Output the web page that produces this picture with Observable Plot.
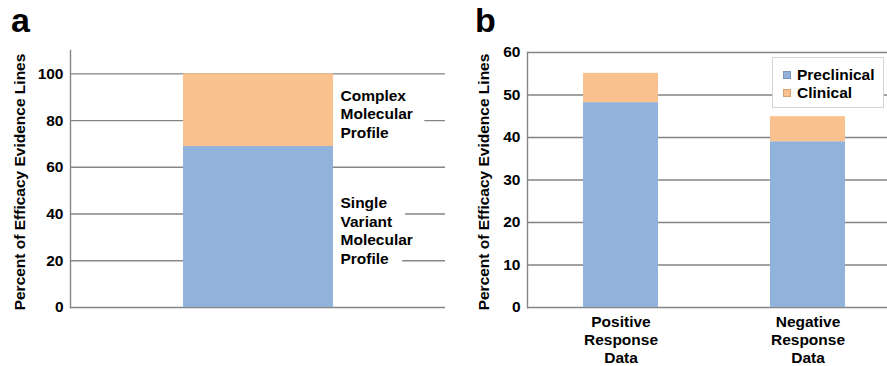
<!DOCTYPE html>
<html>
<head>
<meta charset="utf-8">
<script src="https://cdn.jsdelivr.net/npm/d3@7"></script>
<script src="https://cdn.jsdelivr.net/npm/@observablehq/plot@0.6"></script>
<style>
  html, body { margin: 0; padding: 0; background: #fff; overflow: hidden; }
  #wrap { position: relative; width: 887px; height: 366px; overflow: hidden; font-family: "Liberation Sans", Arial, sans-serif; }
  .panel-letter { position: absolute; font-weight: bold; font-size: 34px; line-height: normal; color: #000; }
  #panelA, #panelB { position: absolute; top: 0; height: 366px; }
  #panelA { left: 0; width: 450px; }
  #panelB { left: 440px; width: 461px; }
  #panelA svg, #panelB svg { max-width: none !important; display: block; }
  #legend { position: absolute; left: 772px; top: 57px; width: 110px; height: 49px; background: #fff; border: 1px solid #d4d4d4; font-weight: bold; font-size: 15.5px; }
  .legend-row { position: absolute; left: 10px; display: flex; align-items: center; height: 18px; }
  .legend-swatch { width: 8px; height: 8px; margin-right: 6px; box-sizing: border-box; border: 1px solid rgba(0,0,0,0.15); }
</style>
</head>
<body>
<div id="wrap">
  <div id="panelA"></div>
  <div id="panelB"></div>
  <div id="legend"></div>
  <div class="panel-letter" style="left:11px; top:1px;">a</div>
  <div class="panel-letter" style="left:475px; top:1px;">b</div>
</div>
<script>
// ---------- data ----------
const yTitle = "Percent of Efficacy Evidence Lines";

// panel a
const profileCategory = ["All efficacy evidence"];
const profileTypes = ["Single\nVariant\nMolecular\nProfile", "Complex\nMolecular\nProfile"];
const profileValues = [68.9, 31.1];
const yTicksA = [0, 20, 40, 60, 80, 100];

// panel b
const responseCategories = ["Positive\nResponse\nData", "Negative\nResponse\nData"];
const seriesNames = ["Preclinical", "Clinical"];
const preclinicalValues = [48.2, 39.0];
const clinicalValues = [6.9, 5.9];
const yTicksB = [0, 10, 20, 30, 40, 50, 60];

const seriesColors = ["#91B2DA", "#F9C18E"];

// ---------- shared style ----------
const font = "'Liberation Sans', Arial, sans-serif";
const gridColor = "#858585";
const fs = 15.5;

// ---------- panel a ----------
const rowsA = profileTypes.map((t, i) => ({category: profileCategory[0], type: t, value: profileValues[i]}));
const cumA = d3.cumsum(profileValues);
const labelRowsA = profileTypes.map((t, i) => ({category: profileCategory[0], type: t, mid: cumA[i] - profileValues[i] / 2}));
const labelOpts = {x: "category", y: "mid", text: "type", textAnchor: "start", dx: 82, dy: 3, lineHeight: 1.2,
  fontSize: fs, fontWeight: "bold"};

const chartA = Plot.plot({
  width: 450,
  height: 366,
  marginLeft: 70,
  marginRight: 5,
  marginTop: 50,
  marginBottom: 59,
  style: {fontFamily: font, background: "transparent"},
  x: {domain: profileCategory, paddingInner: 0.6, paddingOuter: 0.3, axis: null},
  y: {domain: [0, 110]},
  color: {domain: profileTypes, range: seriesColors},
  marks: [
    Plot.gridY(yTicksA, {stroke: gridColor, strokeOpacity: 1, strokeWidth: 1.4}),
    Plot.frame({anchor: "left", stroke: gridColor, strokeWidth: 1.4}),
    Plot.axisY(yTicksA, {tickSize: 0, tickPadding: 7, fontSize: fs, fontWeight: "bold", fill: "#000", label: null}),
    Plot.text([yTitle], {frameAnchor: "left", rotate: -90, dx: -50, dy: 3, fontSize: fs, fontWeight: "bold", fill: "#000", textAnchor: "middle"}),
    // white backing behind the segment labels (breaks the gridlines like the original text boxes)
    Plot.text(labelRowsA, {...labelOpts, fill: "white", stroke: "white", strokeWidth: 28}),
    Plot.text(labelRowsA, {...labelOpts, fill: "#000"}),
    Plot.barY(rowsA, {x: "category", y: "value", fill: "type"})
  ]
});
document.getElementById("panelA").appendChild(chartA);

// ---------- panel b ----------
const rowsB = [];
responseCategories.forEach((c, i) => {
  rowsB.push({category: c, series: seriesNames[0], value: preclinicalValues[i]});
  rowsB.push({category: c, series: seriesNames[1], value: clinicalValues[i]});
});

const chartB = Plot.plot({
  width: 461,
  height: 366,
  marginLeft: 87,
  marginRight: 0,
  marginTop: 52,
  marginBottom: 59,
  style: {fontFamily: font, background: "transparent"},
  x: {domain: responseCategories, paddingInner: 0.6, paddingOuter: 0.3},
  y: {domain: [0, 60]},
  color: {domain: seriesNames, range: seriesColors},
  marks: [
    Plot.gridY(yTicksB, {stroke: gridColor, strokeOpacity: 1, strokeWidth: 1.4}),
    Plot.frame({anchor: "left", stroke: gridColor, strokeWidth: 1.4}),
    Plot.axisY(yTicksB, {tickSize: 0, tickPadding: 7, fontSize: fs, fontWeight: "bold", fill: "#000", label: null}),
    Plot.axisX({tickSize: 0, tickPadding: 6, fontSize: fs, fontWeight: "bold", fill: "#000", lineHeight: 1.18, label: null}),
    Plot.text([yTitle], {frameAnchor: "left", rotate: -90, dx: -43, dy: 2, fontSize: fs, fontWeight: "bold", fill: "#000", textAnchor: "middle"}),
    Plot.barY(rowsB, {x: "category", y: "value", fill: "series"})
  ]
});
document.getElementById("panelB").appendChild(chartB);

// ---------- legend ----------
const legend = document.getElementById("legend");
seriesNames.forEach((name, i) => {
  const row = document.createElement("div");
  row.className = "legend-row";
  row.style.top = (8 + i * 18) + "px";
  const sw = document.createElement("div");
  sw.className = "legend-swatch";
  sw.style.background = seriesColors[i];
  const label = document.createElement("span");
  label.textContent = name;
  row.appendChild(sw);
  row.appendChild(label);
  legend.appendChild(row);
});
</script>
</body>
</html>
